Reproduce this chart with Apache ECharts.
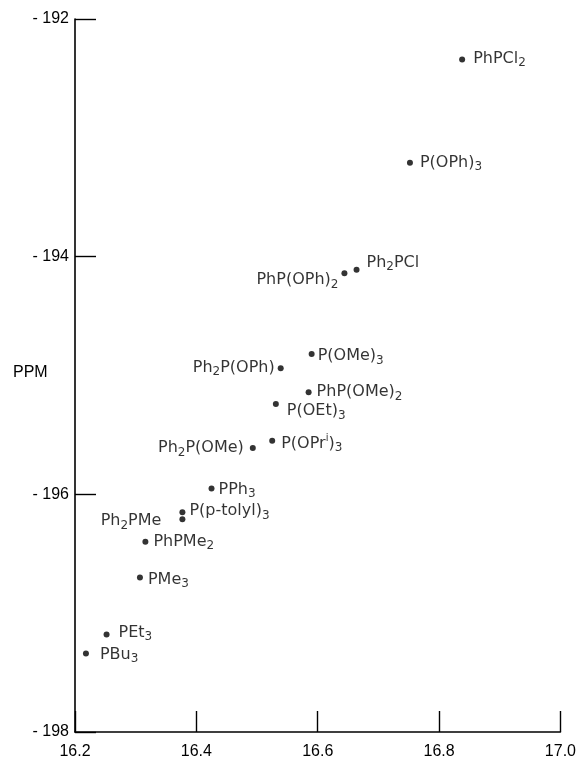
<!DOCTYPE html>
<html>
<head>
<meta charset="utf-8">
<script src="https://cdn.jsdelivr.net/npm/echarts@6/dist/echarts.min.js"></script>
<style>
  html, body { margin: 0; padding: 0; background: #fff; }
  #chart { width: 579px; height: 760px; }
</style>
</head>
<body>
<div id="chart"></div>
<script>
// ---- data ----
const compounds = ['PhPCl2','P(OPh)3','PhP(OPh)2','Ph2PCl','P(OMe)3','Ph2P(OPh)','PhP(OMe)2','P(OEt)3','P(OPri)3','Ph2P(OMe)','PPh3','P(p-tolyl)3','Ph2PMe','PhPMe2','PMe3','PEt3','PBu3'];
const labelTexts = ['PhPCl{s|2}','P(OPh){s|3}','PhP(OPh){s|2}','Ph{s|2}PCl','P(OMe){s|3}','Ph{s|2}P(OPh)','PhP(OMe){s|2}','P(OEt){s|3}','P(OPr{u|i}){s|3}','Ph{s|2}P(OMe)','PPh{s|3}','P(p-tolyl){s|3}','Ph{s|2}PMe','PhPMe{s|2}','PMe{s|3}','PEt{s|3}','PBu{s|3}'];
const xValues = [16.838,16.752,16.644,16.664,16.590,16.539,16.585,16.531,16.525,16.493,16.425,16.377,16.377,16.316,16.307,16.252,16.218];
const ppmValues = [-192.34,-193.21,-194.14,-194.11,-194.82,-194.94,-195.14,-195.24,-195.55,-195.61,-195.95,-196.15,-196.21,-196.40,-196.70,-197.18,-197.34];
const xTicks = [16.2, 16.4, 16.6, 16.8, 17.0];
const yTicks = [-198, -196, -194, -192];

// ---- label placement (style only) ----
const placement = {
  'PhPCl2':      ['right', 8, -1],
  'P(OPh)3':     ['right', 7, 0],
  'PhP(OPh)2':   ['left', 3, 7],
  'Ph2PCl':      ['right', 7, -7],
  'P(OMe)3':     ['right', 3, 2],
  'Ph2P(OPh)':   ['left', 3, -1],
  'PhP(OMe)2':   ['right', 5, 0],
  'P(OEt)3':     ['right', 8, 7],
  'P(OPri)3':    ['right', 6, 3],
  'Ph2P(OMe)':   ['left', 6, 0],
  'PPh3':        ['right', 4, 1],
  'P(p-tolyl)3': ['right', 4, -1],
  'Ph2PMe':      ['left', 18, 2],
  'PhPMe2':      ['right', 5, 0],
  'PMe3':        ['right', 5, 2],
  'PEt3':        ['right', 9, -2],
  'PBu3':        ['right', 11, 1]
};

const FONT = 'DejaVu Sans';
const INK = '#000';

const seriesData = compounds.map((name, i) => {
  const p = placement[name];
  return {
    name: name,
    value: [xValues[i], ppmValues[i]],
    label: {
      show: true,
      position: p[0],
      distance: p[1],
      offset: [0, p[2]],
      formatter: labelTexts[i]
    }
  };
});

const chart = echarts.init(document.getElementById('chart'), null, { renderer: 'canvas' });
chart.setOption({
  backgroundColor: '#fff',
  animation: false,
  grid: { left: 75, right: 16, top: 19, bottom: 27, containLabel: false },
  xAxis: {
    type: 'value',
    min: xTicks[0],
    max: xTicks[xTicks.length - 1],
    interval: 0.2,
    axisLine: { show: true, onZero: false, lineStyle: { color: INK, width: 1.6 } },
    axisTick: { show: true, inside: true, length: 21, lineStyle: { color: INK, width: 1.4 } },
    axisLabel: { color: INK, fontFamily: 'Liberation Sans', fontSize: 16, margin: 12,
      formatter: v => v.toFixed(1) },
    splitLine: { show: false }
  },
  yAxis: {
    type: 'value',
    min: yTicks[0],
    max: yTicks[yTicks.length - 1],
    interval: 2,
    axisLine: { show: true, onZero: false, lineStyle: { color: INK, width: 1.6 } },
    axisTick: { show: true, inside: true, length: 21, lineStyle: { color: INK, width: 1.4 } },
    axisLabel: { color: INK, fontFamily: 'Liberation Sans', fontSize: 16, margin: 6,
      formatter: v => '- ' + Math.abs(v) },
    splitLine: { show: false }
  },
  graphic: [{
    type: 'text', left: 13, top: 365,
    style: { text: 'PPM', fill: INK, font: '16px "Liberation Sans"' }
  }],
  series: [{
    type: 'scatter',
    symbol: 'circle',
    symbolSize: 6,
    itemStyle: { color: INK },
    label: {
      color: INK,
      fontFamily: FONT,
      fontSize: 16,
      rich: {
        s: { fontSize: 12, fontFamily: FONT, color: INK, padding: [9, 0, 0, 0] },
        u: { fontSize: 10, fontFamily: FONT, color: INK, padding: [0, 0, 10, 0] }
      }
    },
    data: seriesData
  }]
});
</script>
</body>
</html>
